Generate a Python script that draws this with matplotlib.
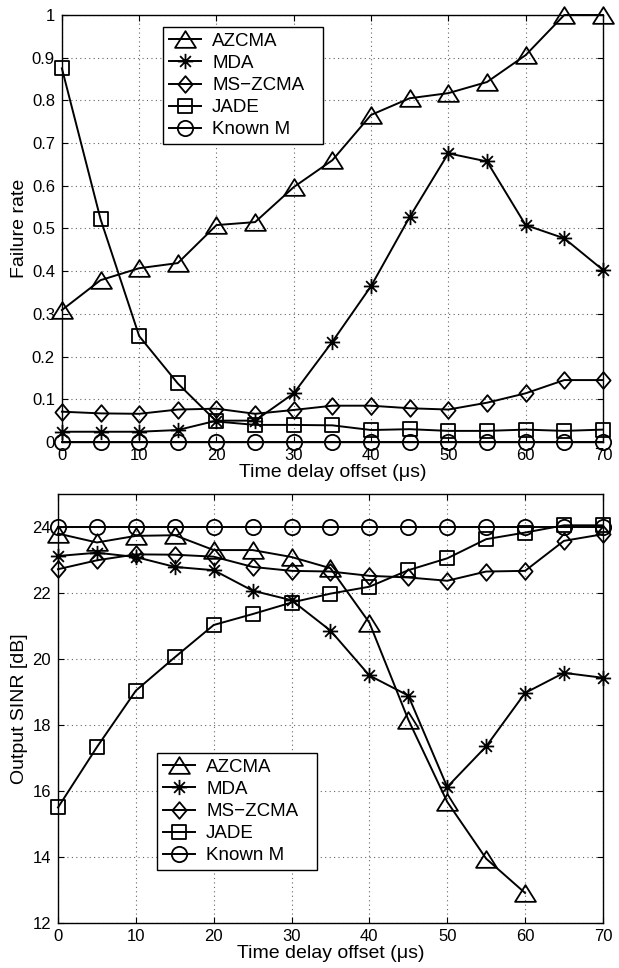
import numpy as np
import matplotlib
matplotlib.use('Agg')
import matplotlib.pyplot as plt
from matplotlib.path import Path

plt.rcParams['font.family'] = ['Liberation Sans', 'DejaVu Sans']
plt.rcParams['font.size'] = 12

# time delay offsets (us)
t_fail = [0, 5, 10, 15, 20, 25, 30, 35, 40, 45, 50, 55, 60, 65, 70]

# failure rate
fail_azcma = [0.309, 0.379, 0.407, 0.419, 0.508, 0.515, 0.597, 0.660, 0.766,
              0.805, 0.817, 0.843, 0.906, 1.0, 1.0]
fail_mda = [0.024, 0.024, 0.024, 0.028, 0.050, 0.050, 0.114, 0.235, 0.365,
            0.527, 0.676, 0.657, 0.508, 0.477, 0.403]
fail_mszcma = [0.071, 0.067, 0.066, 0.076, 0.078, 0.066, 0.075, 0.085, 0.085,
               0.079, 0.076, 0.092, 0.114, 0.145, 0.145]
fail_jade = [0.875, 0.522, 0.248, 0.137, 0.048, 0.040, 0.040, 0.039, 0.028,
             0.030, 0.026, 0.026, 0.029, 0.026, 0.029]
fail_known = [0.0] * 15

# output SINR (dB)
t_azcma = [0, 5, 10, 15, 20, 25, 30, 35, 40, 45, 50, 55, 60]
sinr_azcma = [23.80, 23.53, 23.73, 23.75, 23.30, 23.30, 23.09, 22.75, 21.10,
              18.16, 15.67, 13.95, 12.91]
t_sinr = [0, 5, 10, 15, 20, 25, 30, 35, 40, 45, 50, 55, 60, 65, 70]
sinr_mda = [23.12, 23.22, 23.09, 22.79, 22.69, 22.07, 21.78, 20.86, 19.50,
            18.89, 16.12, 17.35, 18.97, 19.58, 19.43]
sinr_mszcma = [22.72, 22.99, 23.17, 23.16, 23.10, 22.79, 22.67, 22.65, 22.52,
               22.47, 22.37, 22.65, 22.67, 23.58, 23.78]
sinr_jade = [15.50, 17.33, 19.04, 20.05, 21.03, 21.36, 21.71, 21.98, 22.19,
             22.69, 23.05, 23.63, 23.83, 24.05, 24.05]
sinr_known = [24.0] * 15

labels = ['AZCMA', 'MDA', 'MS\u2212ZCMA', 'JADE', 'Known M']

# matlab-like open markers
C = Path.CLOSEPOLY
tri = Path([(0, 1), (-1.25, -1), (1.25, -1), (0, 1)],
           [Path.MOVETO, Path.LINETO, Path.LINETO, C])
dia = Path([(0, 1), (0.85, 0), (0, -1), (-0.85, 0), (0, 1)],
           [Path.MOVETO, Path.LINETO, Path.LINETO, Path.LINETO, C])
sq = Path([(-1, -1), (1, -1), (1, 1), (-1, 1), (-1, -1)],
          [Path.MOVETO, Path.LINETO, Path.LINETO, Path.LINETO, C])
a = 0.7071
ast = Path([(-1, 0), (1, 0), (0, -1), (0, 1), (-a, -a), (a, a), (-a, a), (a, -a)],
           [Path.MOVETO, Path.LINETO] * 4)
markers = [tri, ast, dia, sq, 'o']
msizes = [15, 11, 12, 10, 11]

fig = plt.figure(figsize=(6.19, 9.68), dpi=100)
ax1 = fig.add_axes([0.100, 0.5434, 0.874, 0.4411])
ax2 = fig.add_axes([0.0937, 0.0465, 0.8803, 0.4432])


def style(ax):
    ax.grid(True, linestyle=(0, (1, 3)), color='0.4', linewidth=0.8)
    ax.tick_params(direction='in', length=4, width=0.8, top=True, right=True,
                   labeltop=False, labelright=False)
    ax.tick_params(axis='x', pad=4)
    ax.tick_params(axis='y', pad=5)
    for s in ax.spines.values():
        s.set_linewidth(1.0)


def draw(ax, xs, ys):
    for x, y, lab, m, ms in zip(xs, ys, labels, markers, msizes):
        ax.plot(x, y, color='black', linewidth=1.4, label=lab, clip_on=False,
                marker=m, markersize=ms, markerfacecolor='none',
                markeredgecolor='black', markeredgewidth=1.3)


def add_legend(ax, x0, y0, x1, y1):
    # box edges in pixels of the 619x968 figure
    leg = ax.legend(loc='upper left', mode='expand',
                    bbox_to_anchor=(x0 / 619, 1 - y1 / 968,
                                    (x1 - x0) / 619, (y1 - y0) / 968),
                    bbox_transform=fig.transFigure, fancybox=False,
                    edgecolor='black', framealpha=1, fontsize=13.5,
                    handlelength=1.7, borderpad=0.3, labelspacing=0.27,
                    handletextpad=0.62, borderaxespad=0)
    leg.get_frame().set_linewidth(1.0)


draw(ax1, [t_fail] * 5, [fail_azcma, fail_mda, fail_mszcma, fail_jade, fail_known])
ax1.set_xlim(0, 70)
ax1.set_ylim(0, 1)
ax1.set_xticks(np.arange(0, 71, 10))
ax1.set_yticks(np.arange(0, 1.01, 0.1))
ax1.set_yticklabels(['0', '0.1', '0.2', '0.3', '0.4', '0.5', '0.6', '0.7',
                     '0.8', '0.9', '1'])
ax1.set_xlabel('Time delay offset (\u03bcs)', fontsize=14, labelpad=1)
ax1.set_ylabel('Failure rate', fontsize=14, labelpad=3)
style(ax1)
add_legend(ax1, 163, 27, 323, 138)

draw(ax2, [t_azcma, t_sinr, t_sinr, t_sinr, t_sinr],
     [sinr_azcma, sinr_mda, sinr_mszcma, sinr_jade, sinr_known])
ax2.set_xlim(0, 70)
ax2.set_ylim(12, 25)
ax2.set_xticks(np.arange(0, 71, 10))
ax2.set_yticks(np.arange(12, 25, 2))
ax2.set_xlabel('Time delay offset (\u03bcs)', fontsize=14, labelpad=1)
ax2.set_ylabel('Output SINR [dB]', fontsize=14, labelpad=3)
style(ax2)
add_legend(ax2, 157, 753, 317, 869)

fig.savefig('out.png', dpi=100)
